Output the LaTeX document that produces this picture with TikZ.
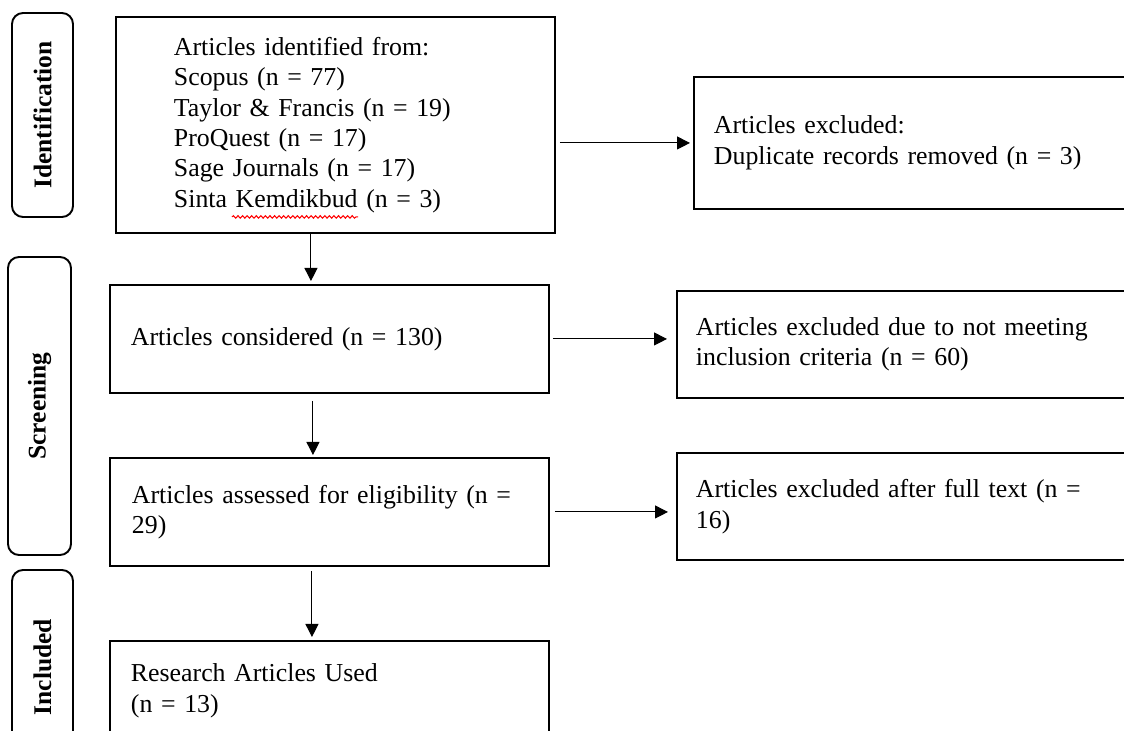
\documentclass[tikz,border=0pt]{standalone}
\usepackage{fontspec}
\setmainfont{Liberation Serif}
\usetikzlibrary{arrows.meta, calc, decorations.pathmorphing}
\tikzset{
    phase/.style={rectangle, draw, line width=1.1pt, rounded corners=0.22cm, rotate=90, align=center, font=\fontsize{14.5pt}{16pt}\selectfont\bfseries},
    stagebox/.style={rectangle, draw, line width=1.1pt, anchor=north west, align=left, inner ysep=0pt, font=\fontsize{14.7pt}{17.3pt}\selectfont},
    arrow/.style={-{Triangle[length=0.26cm, width=0.26cm]}, line width=0.6pt},
    spellwave/.style={red, line width=0.6pt, decorate, decoration={snake, amplitude=0.7pt, segment length=2.6pt}}
}

\begin{document}
\begin{tikzpicture}
            \useasboundingbox (0,0) rectangle (22.48,-14.62);
            \clip (0,0) rectangle (22.48,-14.62);

            % Phases
            \node (ident) [phase, minimum width=4.08cm, minimum height=1.22cm] at (0.85,-2.30) {Identification};
            \node (screen) [phase, minimum width=5.96cm, minimum height=1.26cm] at (0.79,-8.12) {Screening};
            \node (incl) [phase, minimum width=3.88cm, minimum height=1.22cm] at (0.85,-13.34) {Included};

            % Main flow
            \node (ids) [stagebox, text width=6.46cm, inner xsep=1.16cm, minimum height=4.32cm] at (2.30,-0.32) {
                Articles identified from:\\
                Scopus (n = 77)\\
                Taylor \& Francis (n = 19)\\
                ProQuest (n = 17)\\
                Sage Journals (n = 17)\\
                Sinta Kemdikbud (n = 3)
            };
            \node (cons) [stagebox, text width=7.94cm, inner xsep=0.42cm, minimum height=2.16cm] at (2.18,-5.68) {Articles considered (n = 130)};
            \node (elig) [stagebox, text width=7.90cm, inner xsep=0.44cm, minimum height=2.16cm] at (2.18,-9.14) {Articles assessed for eligibility (n =\\ 29)};
            \node (used) [stagebox, text width=7.94cm, inner xsep=0.42cm, minimum height=2.00cm] at (2.18,-12.80) {Research Articles Used\\ (n = 13)};

            % spell-check underline
            \coordinate (w1) at ($(ids.south west)+(2.34,0.34)$);
            \coordinate (w2) at ($(ids.south west)+(4.86,0.34)$);
            \draw [spellwave] (w1) -- (w2);

            % Exclusions
            \node (excl1) [stagebox, text width=8.14cm, inner xsep=0.40cm, minimum height=2.64cm] at (13.86,-1.52) {Articles excluded:\\ Duplicate records removed (n = 3)};
            \node (excl2) [stagebox, text width=8.52cm, inner xsep=0.38cm, minimum height=2.14cm] at (13.52,-5.80) {Articles excluded due to not meeting\\ inclusion criteria (n = 60)};
            \node (excl3) [stagebox, text width=8.52cm, inner xsep=0.38cm, minimum height=2.14cm] at (13.52,-9.04) {Articles excluded after full text (n =\\ 16)};

            % Arrows down
            \coordinate (d1) at ($(ids.south)+(-0.49,0)$);
            \coordinate (d2) at ($(cons.south)+(-0.33,0)$);
            \coordinate (d3) at ($(elig.south)+(-0.35,0)$);
            \draw [arrow, shorten >=0.06cm] (d1) -- (d1 |- cons.north);
            \draw [arrow, shorten <=0.14cm, shorten >=0.04cm] (d2) -- (d2 |- elig.north);
            \draw [arrow, shorten <=0.08cm, shorten >=0.06cm] (d3) -- (d3 |- used.north);

            % Arrows to exclusions
            \draw [arrow, shorten <=0.08cm, shorten >=0.06cm] (excl1.west -| ids.east) -- (excl1.west);
            \draw [arrow, shorten <=0.06cm, shorten >=0.18cm] (cons.east) -- (cons.east -| excl2.west);
            \draw [arrow, shorten <=0.10cm, shorten >=0.16cm] (elig.east) -- (elig.east -| excl3.west);

\end{tikzpicture}
\end{document}
